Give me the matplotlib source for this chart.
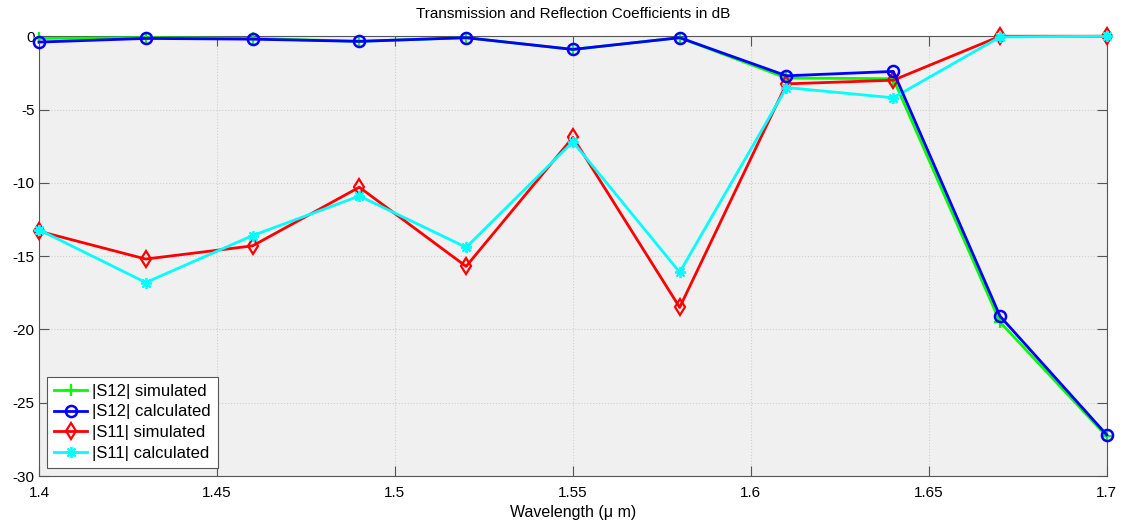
import matplotlib
matplotlib.use("Agg")
import matplotlib.pyplot as plt
import numpy as np

plt.rcParams['font.family'] = ['Liberation Sans', 'DejaVu Sans']
plt.rcParams['axes.unicode_minus'] = False

wavelength = [1.40, 1.43, 1.46, 1.49, 1.52, 1.55, 1.58, 1.61, 1.64, 1.67, 1.70]

s12_sim = [-0.15, -0.1, -0.15, -0.35, -0.1, -0.9, -0.1, -2.85, -2.9, -19.5, -27.3]
s12_calc = [-0.4, -0.15, -0.2, -0.35, -0.1, -0.9, -0.1, -2.7, -2.4, -19.1, -27.2]
s11_sim = [-13.3, -15.2, -14.3, -10.3, -15.7, -6.9, -18.5, -3.25, -3.0, 0.0, 0.0]
s11_calc = [-13.2, -16.8, -13.6, -10.9, -14.4, -7.2, -16.1, -3.5, -4.2, -0.05, 0.0]

xticks = [1.4, 1.45, 1.5, 1.55, 1.6, 1.65, 1.7]
xticklabels = ['1.4', '1.45', '1.5', '1.55', '1.6', '1.65', '1.7']
yticks = [0, -5, -10, -15, -20, -25, -30]

fig = plt.figure(figsize=(11.26, 5.25), dpi=100)
ax = fig.add_axes([0.0346, 0.0933, 0.9484, 0.8377])
ax.set_facecolor('#f0f0f0')

ax.plot(wavelength, s12_sim, color='#00ff00', lw=2, marker='+', ms=9, mew=1.6,
        label='|S12| simulated', clip_on=False, zorder=3)
ax.plot(wavelength, s12_calc, color='#0000ff', lw=2, marker='o', ms=8, mew=1.8,
        mfc='none', label='|S12| calculated', clip_on=False, zorder=4)
ax.plot(wavelength, s11_sim, color='#ff0000', lw=2, marker='d', ms=8, mew=1.6,
        mfc='none', label='|S11| simulated', clip_on=False, zorder=3)
# asterisk marker: four crossing strokes
ax.plot(wavelength, s11_calc, color='#00ffff', lw=2, marker=(8, 2, 0), ms=8, mew=1.3,
        label='|S11| calculated', clip_on=False, zorder=3)

ax.set_xlim(1.4, 1.7)
ax.set_ylim(-30, 0)
ax.set_xticks(xticks)
ax.set_xticklabels(xticklabels)
ax.set_yticks(yticks)
ax.tick_params(direction='in', top=True, right=True, labelsize=11, length=7,
               color='#555555')
ax.tick_params(axis='x', pad=7)
ax.tick_params(axis='y', pad=3)
ax.grid(True, color='#cfcfcf', linestyle=':', linewidth=0.8)
ax.set_axisbelow(True)
for s in ax.spines.values():
    s.set_color('#555555')
    s.set_linewidth(0.8)

ax.set_title('Transmission and Reflection Coefficients in dB', fontsize=11, pad=13)
ax.set_xlabel('Wavelength (\u03bc m)', fontsize=11.5, labelpad=4)

leg = ax.legend(loc='lower left', fontsize=12, fancybox=False, framealpha=1,
                edgecolor='#555555', handlelength=2.0, borderaxespad=0.5,
                labelspacing=0.35, handletextpad=0.3, borderpad=0.4)
leg.get_frame().set_linewidth(0.8)

fig.savefig('out.png', dpi=100)
